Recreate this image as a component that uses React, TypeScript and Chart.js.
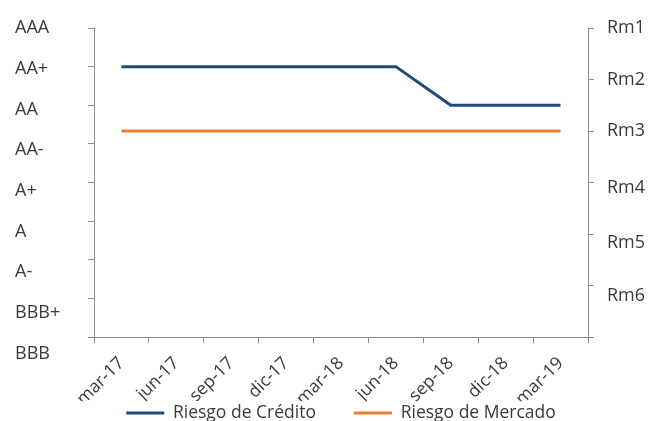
import React, { useEffect, useRef } from 'react';
import { Chart, registerables } from 'chart.js';

Chart.register(...registerables);

const periods = ['mar-17', 'jun-17', 'sep-17', 'dic-17', 'mar-18', 'jun-18', 'sep-18', 'dic-18', 'mar-19'];
const ratingScale = ['BBB', 'BBB+', 'A-', 'A', 'A+', 'AA-', 'AA', 'AA+', 'AAA'];
const marketScale = ['Rm1', 'Rm2', 'Rm3', 'Rm4', 'Rm5', 'Rm6', ''];
const creditRisk = ['AA+', 'AA+', 'AA+', 'AA+', 'AA+', 'AA+', 'AA', 'AA', 'AA'];
const marketRisk = ['Rm3', 'Rm3', 'Rm3', 'Rm3', 'Rm3', 'Rm3', 'Rm3', 'Rm3', 'Rm3'];

const FONT = "'Open Sans', 'DejaVu Sans', sans-serif";
const TEXT = '#3a3a3a';
const AXIS = '#8c8c8c';
const Y_SIZE = 18;
const X_SIZE = 17.5;

export default function App() {
  const ref = useRef<HTMLCanvasElement | null>(null);

  useEffect(() => {
    if (!ref.current) return;
    const leftShift = (v: number) => (ratingScale.length - 1 - v) * 2.1;
    const rightShifts = [0, 0, 0, 5, 9, 10, 0];
    const chart = new Chart(ref.current, {
      type: 'line',
      data: {
        labels: periods,
        datasets: [
          {
            label: 'Riesgo de Crédito',
            data: creditRisk.map((r) => ratingScale.indexOf(r)),
            borderColor: '#1f497d',
            backgroundColor: '#1f497d',
            borderWidth: 3,
            pointRadius: 0,
            tension: 0,
            yAxisID: 'y',
          },
          {
            label: 'Riesgo de Mercado',
            data: marketRisk.map((r) => marketScale.indexOf(r) + 1),
            borderColor: '#ed7d31',
            backgroundColor: '#ed7d31',
            borderWidth: 3,
            pointRadius: 0,
            tension: 0,
            yAxisID: 'y1',
          },
        ],
      },
      options: {
        animation: false,
        responsive: true,
        maintainAspectRatio: false,
        layout: { padding: { left: 15, top: 28, right: 0, bottom: -10.75 } },
        plugins: {
          legend: {
            position: 'bottom',
            fullSize: false,
            labels: {
              usePointStyle: true,
              pointStyle: 'line',
              pointStyleWidth: 38,
              padding: 3,
              color: TEXT,
              font: { family: FONT, size: X_SIZE },
              generateLabels: (c: any) => {
                const items = Chart.defaults.plugins.legend.labels.generateLabels(c);
                return items.map((it: any, i: number) =>
                  i < items.length - 1 ? { ...it, text: it.text + '\u2002\u2002\u2002\u2002' } : it
                );
              },
            },
          },
          tooltip: { enabled: false },
        },
        scales: {
          x: {
            type: 'category',
            offset: true,
            grid: { offset: true, drawOnChartArea: false, tickLength: 6, color: AXIS },
            border: { color: AXIS },
            ticks: {
              minRotation: 45,
              maxRotation: 45,
              autoSkip: false,
              padding: 10,
              color: TEXT,
              font: { family: FONT, size: X_SIZE },
            },
            afterFit: (s: any) => {
              s.height = 64.25;
            },
          },
          y: {
            type: 'linear',
            position: 'left',
            min: 0,
            max: ratingScale.length - 1,
            grid: { drawOnChartArea: false, tickLength: 6, color: AXIS },
            border: { color: AXIS },
            ticks: {
              stepSize: 1,
              autoSkip: false,
              crossAlign: 'far',
              color: TEXT,
              callback: (v: any) => {
                const t = ratingScale[Number(v)] ?? '';
                return leftShift(Number(v)) > 0 ? ['', t] : t;
              },
              font: (ctx: any) => {
                const v = ctx.tick ? Number(ctx.tick.value) : 0;
                const sh = leftShift(v);
                return { family: FONT, size: Y_SIZE, lineHeight: sh > 0 ? (2 * sh) / Y_SIZE : 1.2 };
              },
            },
            afterFit: (s: any) => {
              s.width = 79;
            },
          },
          y1: {
            type: 'linear',
            position: 'right',
            min: 1,
            max: marketScale.length,
            reverse: true,
            grid: { drawOnChartArea: false, tickLength: 6, color: AXIS },
            border: { color: AXIS },
            ticks: {
              stepSize: 1,
              autoSkip: false,
              padding: 13,
              color: TEXT,
              callback: (v: any) => {
                const i = Number(v) - 1;
                const t = marketScale[i] ?? '';
                return rightShifts[i] > 0 ? ['', t] : t;
              },
              font: (ctx: any) => {
                const i = ctx.tick ? Number(ctx.tick.value) - 1 : 0;
                const sh = rightShifts[i] || 0;
                return { family: FONT, size: Y_SIZE, lineHeight: sh > 0 ? (2 * sh) / Y_SIZE : 1.2 };
              },
            },
            afterFit: (s: any) => {
              s.width = 62;
            },
          },
        },
      },
    });
    return () => chart.destroy();
  }, []);

  return (
    <div style={{ position: 'absolute', left: 0, top: 0, width: 650, height: 421, background: '#fff' }}>
      <canvas ref={ref} />
    </div>
  );
}
